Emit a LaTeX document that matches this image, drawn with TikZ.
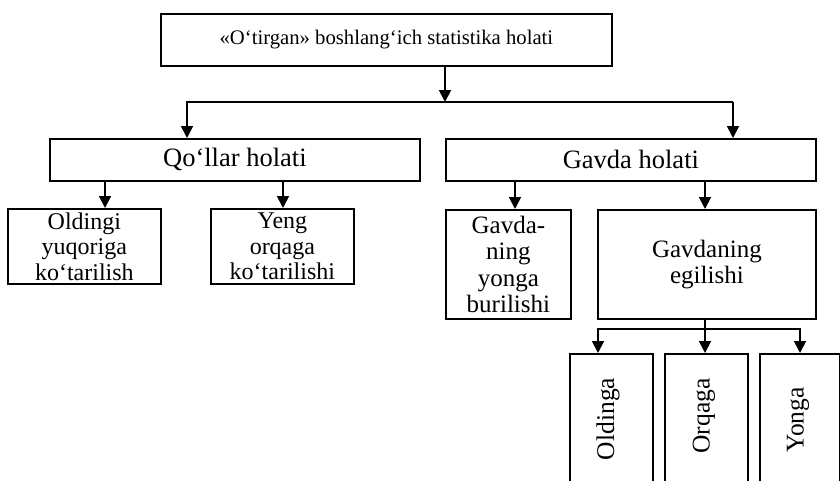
\documentclass[tikz,border=0pt]{standalone}
\usepackage{fontspec}
\setmainfont{Liberation Serif}
\usetikzlibrary{arrows.meta}
\begin{document}
\begin{tikzpicture}[x=1pt,y=-1pt,
  box/.style={draw, line width=1.8pt, inner sep=0pt, align=center,
    font=\fontsize{24}{25.5}\selectfont, anchor=north west},
  lbl/.style={inner sep=0pt, font=\fontsize{25.5}{26}\selectfont, rotate=90},
  arr/.style={line width=1.8pt, -{Triangle[length=12pt,width=12pt]}},
  ln/.style={line width=1.8pt}]
\useasboundingbox (0,0) rectangle (840,480);
\clip (0,0) rectangle (840,480);
% boxes
\node[box, font=\fontsize{20.7}{24}\selectfont, minimum width=451pt, minimum height=52pt] (top) at (160,13) {«O‘tirgan» boshlang‘ich statistika holati};
\node[box, font=\fontsize{26.5}{28}\selectfont, minimum width=370pt, minimum height=42pt] (qollar) at (49,138) {Qo‘llar holati};
\node[box, font=\fontsize{26.5}{28}\selectfont, minimum width=370pt, minimum height=42pt] (gavda) at (445,138) {Gavda holati};
\node[box, minimum width=153pt, minimum height=75pt] (oldingi) at (7,208) {Oldingi\\yuqoriga\\ko‘tarilish};
\node[box, minimum width=143pt, minimum height=75pt] (yeng) at (210,208) {Yeng\\orqaga\\ko‘tarilishi};
\node[box, font=\fontsize{25}{26.5}\selectfont, minimum width=125pt, minimum height=109pt] (gning) at (445,209) {Gavda-\\ning\\yonga\\burilishi};
\node[box, font=\fontsize{25}{25.5}\selectfont, minimum width=218pt, minimum height=109pt] (gegil) at (597,209) {Gavdaning\\egilishi};
\node[box, minimum width=83pt, minimum height=170pt] (oldinga) at (569,353) {};
\node[box, minimum width=83pt, minimum height=170pt] (orqaga) at (664,353) {};
\node[box, minimum width=80pt, minimum height=170pt] (yonga) at (759,353) {};
\node[lbl] (toldinga) at (608,419) {Oldinga};
\node[lbl] (torqaga) at (704,416) {Orqaga};
\node[lbl] (tyonga) at (798,420) {Yonga};
% connectors
\coordinate (j1) at (445,102);
\coordinate (h1l) at (187,102);
\coordinate (h1r) at (733,102);
\draw[arr] (top.south -| j1) -- (j1);
\draw[arr] (h1r) -- (h1l) -- (h1l |- qollar.north);
\draw[arr] (h1r) -- (h1r |- gavda.north);
\coordinate (a1) at (105,0);
\coordinate (a2) at (283,0);
\coordinate (a3) at (515,0);
\coordinate (a4) at (705,0);
\draw[arr] (qollar.south -| a1) -- (oldingi.north -| a1);
\draw[arr] (qollar.south -| a2) -- (yeng.north -| a2);
\draw[arr] (gavda.south -| a3) -- (gning.north -| a3);
\draw[arr] (gavda.south -| a4) -- (gegil.north -| a4);
\coordinate (h2) at (705,329);
\coordinate (h2l) at (598,329);
\coordinate (h2r) at (800,329);
\draw[ln] (gegil.south -| h2) -- (h2);
\draw[arr] (h2) -- (h2l) -- (h2l |- oldinga.north);
\draw[arr] (h2) -- (h2r) -- (h2r |- yonga.north);
\draw[arr] (h2) -- (h2 |- orqaga.north);
\end{tikzpicture}
\end{document}
